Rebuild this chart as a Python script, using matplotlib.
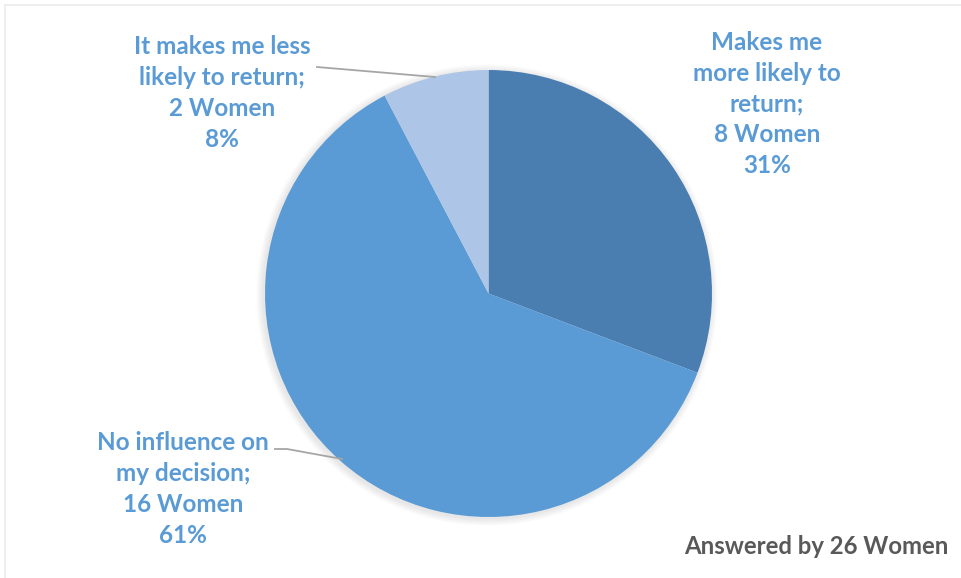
import matplotlib.pyplot as plt
from matplotlib.patches import Circle, Rectangle

# Survey answers (clockwise from 12 o'clock)
answers = ["Makes me\nmore likely to\nreturn;", "No influence on\nmy decision;", "It makes me less\nlikely to return;"]
women = [8, 16, 2]
percents = [31, 61, 8]
colors = ["#4A7EB1", "#5B9BD5", "#ADC5E7"]
total_note = "Answered by 26 Women"

label_color = "#5B9BD5"
plt.rcParams['font.family'] = ['Lato', 'DejaVu Sans']

fig = plt.figure(figsize=(9.61, 5.78), dpi=100)
ax = fig.add_axes([0, 0, 1, 1])

# faint chart-area frame
ax.add_patch(Rectangle((5, -10), 980, 583, fill=False, edgecolor="#EBEBEB", lw=1.2))

cx, cy, r = 488.5, 578 - 293.5, 223.5

# soft shadow under the pie
for i in range(8):
    ax.add_patch(Circle((cx - 1.5, cy - 1.5), r + 1 + i * 0.9, facecolor="#000000",
                        alpha=0.012, edgecolor="none", zorder=1))

ax.pie(women, colors=colors, startangle=90, counterclock=False,
       center=(cx, cy), radius=r, frame=True,
       wedgeprops=dict(linewidth=0, zorder=2))
ax.set_xlim(0, 961)
ax.set_ylim(0, 578)
ax.set_aspect('equal')
ax.axis('off')

# data labels placed outside the pie
label_pos = [(767, 578 - 104), (183, 578 - 489), (222, 578 - 93)]
for name, n, p, (x, y) in zip(answers, women, percents, label_pos):
    ax.text(x, y, f"{name}\n{n} Women\n{p}%", ha="center", va="center",
            color=label_color, fontsize=17.5, fontweight="bold", linespacing=1.42)

# leader lines
ax.plot([317, 435], [578 - 67, 578 - 77], color="#A6A6A6", lw=1.3, zorder=3)
ax.plot([275, 287, 342], [578 - 449, 578 - 449, 578 - 459], color="#A6A6A6", lw=1.3, zorder=3)

ax.text(948, 578 - 546, total_note, ha="right", va="center",
        color="#595959", fontsize=17.2, fontweight="bold")

fig.savefig("out.png", dpi=100)
